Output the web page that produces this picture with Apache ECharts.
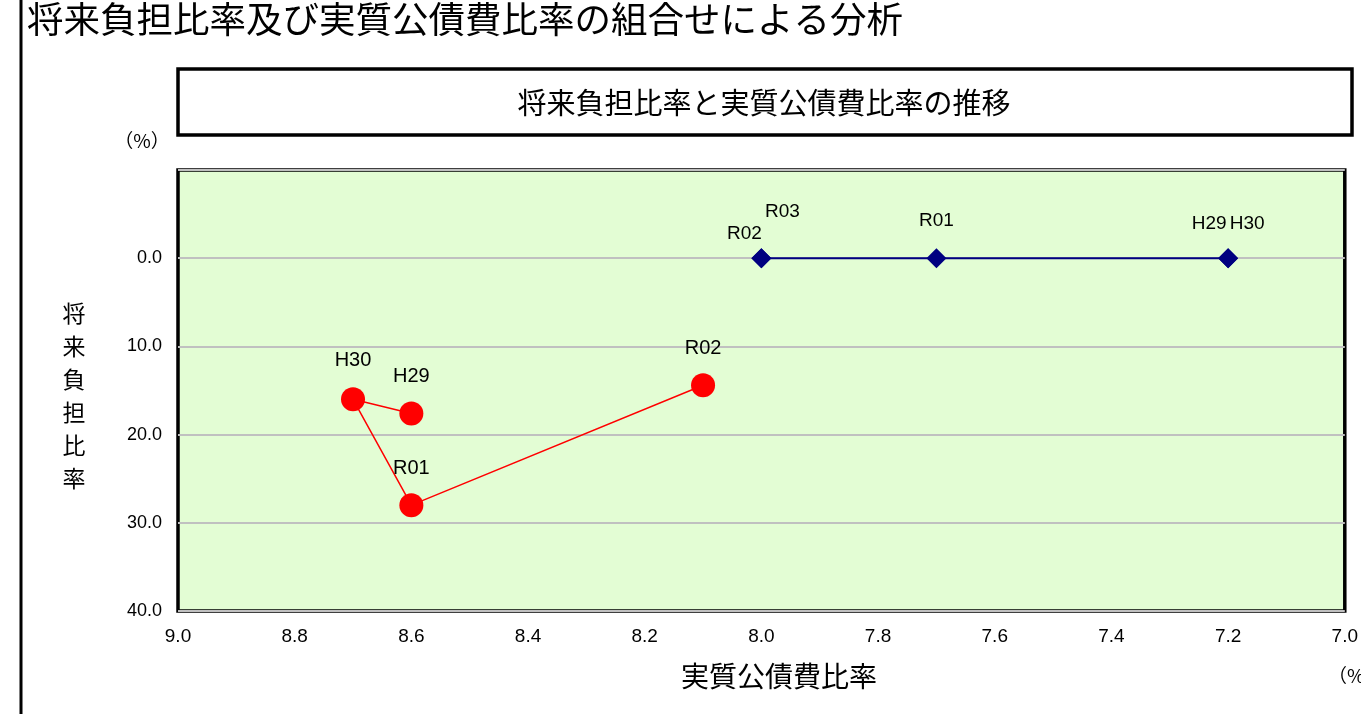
<!DOCTYPE html>
<html><head><meta charset="utf-8">
<script src="https://cdn.jsdelivr.net/npm/echarts@6/dist/echarts.min.js"></script>
<style>html,body{margin:0;padding:0;background:#fff;}#c{width:1361px;height:714px;}</style>
</head><body><div id="c"></div>
<script>
// Data
const redNames = ['H29','H30','R01','R02'];
const redX = [8.6, 8.7, 8.6, 8.1];      // 実質公債費比率
const redY = [17.6, 16.0, 28.0, 14.4];  // 将来負担比率
const blueNames = ['H29','H30','R01','R02','R03'];
const blueX = [7.2, 7.2, 7.7, 8.0, 8.0];
const blueY = [0.0, 0.0, 0.0, 0.0, 0.0];
const xTicks = [7.0, 7.2, 7.4, 7.6, 7.8, 8.0, 8.2, 8.4, 8.6, 8.8, 9.0];
const yTicks = [0.0, 10.0, 20.0, 30.0, 40.0];

const redOffsets = {H29:[0,-10], H30:[0,-12], R01:[0,-10], R02:[0,-10]};
const blueOffsets = {H29:[-19,-10], H30:[19,-10], R01:[0,-13], R02:[-17,0], R03:[21,-22]};

const CJK = '"Noto Sans CJK JP", sans-serif';
const NUM = '"Liberation Sans Narrow", "Liberation Sans", Arial, sans-serif';

const chart = echarts.init(document.getElementById('c'), null, {renderer:'canvas'});
const option = {
  animation:false,
  backgroundColor:'#ffffff',
  grid:{left:178, top:170, width:1173, height:441, show:true,
        backgroundColor:'#E3FDD4', borderColor:'#000', borderWidth:3.5, z:0},
  xAxis:{type:'value', inverse:true, min:xTicks[0], max:xTicks[xTicks.length-1], interval:0.2,
    axisLine:{show:false}, axisTick:{show:false}, splitLine:{show:false},
    axisLabel:{margin:16, fontSize:19, color:'#000', fontFamily:NUM,
      formatter:v=>v.toFixed(1)}},
  yAxis:{type:'value', inverse:true, min:-10, max:40, interval:10,
    axisLine:{show:false}, axisTick:{show:false},
    splitLine:{show:true, lineStyle:{color:'#C0C0C0', width:2}},
    axisLabel:{margin:16, fontSize:18, color:'#000', fontFamily:NUM,
      formatter:v=> (v < 0 ? '' : v.toFixed(1))}},
  series:[
    {type:'line', name:'red', symbol:'circle', symbolSize:24,
     lineStyle:{color:'#FF0000', width:1.5}, itemStyle:{color:'#FF0000'},
     data: redNames.map((n,i)=>({name:n, value:[redX[i], redY[i]],
        label:{offset:redOffsets[n]}})),
     label:{show:true, position:'top', distance:5, formatter:'{b}', fontSize:20, color:'#000',
        fontFamily:'"Liberation Sans", Arial, sans-serif'}, z:3},
    {type:'line', name:'blue', symbol:'diamond', symbolSize:[20,20],
     lineStyle:{color:'#000080', width:2}, itemStyle:{color:'#000080'},
     data: blueNames.map((n,i)=>({name:n, value:[blueX[i], blueY[i]],
        label:{offset:blueOffsets[n]}})),
     label:{show:true, position:'top', distance:5, formatter:'{b}', fontSize:19, color:'#000',
        fontFamily:'"Liberation Sans", Arial, sans-serif'}, z:3}
  ],
  graphic:[
    {type:'rect', shape:{x:21, y:-5, width:0, height:730}, style:{stroke:'#000', lineWidth:3, fill:null}},
    {type:'text', left:27, top:1, style:{text:'将来負担比率及び実質公債費比率の組合せによる分析', font:'36.5px '+CJK, fill:'#000'}},
    {type:'rect', shape:{x:178, y:69, width:1174, height:66}, style:{stroke:'#000', lineWidth:3.5, fill:'#fff'}},
    {type:'text', x:764, y:103, style:{text:'将来負担比率と実質公債費比率の推移', font:'29px '+CJK, fill:'#000', align:'center', verticalAlign:'middle'}},
    {type:'text', x:142, y:141, style:{text:'（%）', font:'19px '+CJK, fill:'#000', align:'center', verticalAlign:'middle'}},
    {type:'text', x:74, y:396, style:{text:'将\n来\n負\n担\n比\n率', font:'23px '+CJK, lineHeight:33, fill:'#000', align:'center', verticalAlign:'middle'}},
    {type:'text', x:779, y:676, style:{text:'実質公債費比率', font:'28px '+CJK, fill:'#000', align:'center', verticalAlign:'middle'}},
    {type:'text', x:1328, y:676, style:{text:'（%）', font:'19px '+CJK, fill:'#000', align:'left', verticalAlign:'middle'}}
  ]
};
chart.setOption(option);
</script></body></html>
